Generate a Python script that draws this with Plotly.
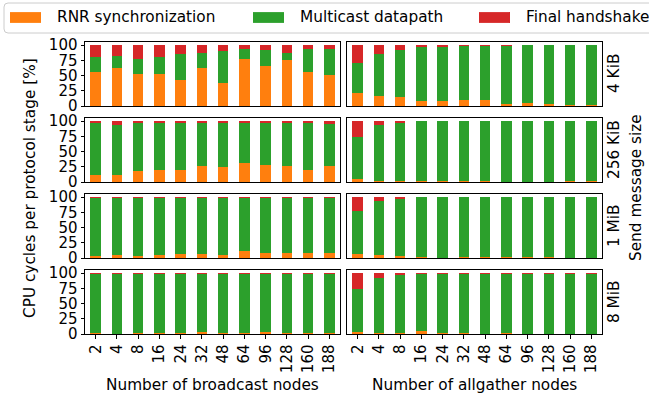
import plotly.graph_objects as go

# ---------------- data ----------------
nodes = ["2", "4", "8", "16", "24", "32", "48", "64", "96", "128", "160", "188"]
sizes = ["4 KiB", "256 KiB", "1 MiB", "8 MiB"]
stages = ["RNR synchronization", "Multicast datapath", "Final handshake"]

# broadcast (left column)
bc_4k_rnr = [55.5, 62, 52, 52, 42, 62, 37.5, 77, 65.5, 75, 55.5, 50.5]
bc_4k_mc = [24.5, 20, 25, 28, 43, 25, 52.5, 16.5, 26.5, 12, 38, 42.5]
bc_4k_fin = [20, 18, 23, 20, 15, 13, 10, 6.5, 8, 13, 6.5, 7]

bc_256k_rnr = [11.5, 11.5, 18, 19, 19, 25.5, 24.5, 32, 27.5, 25.5, 19, 26]
bc_256k_mc = [84.5, 82.5, 78, 77, 77, 70.5, 71.5, 64, 68.5, 70.5, 78, 69.5]
bc_256k_fin = [4, 6, 4, 4, 4, 4, 4, 4, 4, 4, 3, 4.5]

bc_1m_rnr = [2.7, 5, 2.7, 5, 6, 6, 5, 11.5, 8, 8, 8, 8]
bc_1m_mc = [96.5, 94.2, 96.5, 94.2, 93.2, 93.2, 94.2, 87.7, 91.2, 91.2, 91.2, 91.2]
bc_1m_fin = [0.8, 0.8, 0.8, 0.8, 0.8, 0.8, 0.8, 0.8, 0.8, 0.8, 0.8, 0.8]

bc_8m_rnr = [1.5, 0, 1.5, 1.5, 1.5, 3, 1.5, 1.5, 3, 1.5, 1.5, 1.5]
bc_8m_mc = [97.7, 99.2, 97.7, 97.7, 97.7, 96.2, 97.7, 97.7, 96.2, 97.7, 97.7, 97.7]
bc_8m_fin = [0.8, 0.8, 0.8, 0.8, 0.8, 0.8, 0.8, 0.8, 0.8, 0.8, 0.8, 0.8]

# allgather (right column)
ag_4k_rnr = [21, 16, 14, 7.5, 7.5, 9.5, 9.5, 2.5, 4.5, 2.5, 1, 1]
ag_4k_mc = [49.3, 69.2, 77.8, 89.5, 89.8, 88.9, 89, 95.9, 95, 97, 98.5, 98.5]
ag_4k_fin = [29.7, 14.8, 8.2, 3, 2.7, 1.6, 1.5, 1.6, 0.5, 0.5, 0.5, 0.5]

ag_256k_rnr = [5, 1.5, 1.5, 1.5, 1.5, 1.5, 1.5, 0, 0, 0, 1.5, 1.5]
ag_256k_mc = [69.5, 91.5, 95.8, 98, 98, 98, 98, 99.5, 99.5, 99.5, 98, 98]
ag_256k_fin = [25.5, 7, 2.7, 0.5, 0.5, 0.5, 0.5, 0.5, 0.5, 0.5, 0.5, 0.5]

ag_1m_rnr = [6, 4.3, 2.7, 1.5, 0, 1.5, 1.5, 1.5, 1.5, 1.5, 0, 0]
ag_1m_mc = [70.6, 88.7, 94.6, 98, 99.5, 98, 98, 98, 98, 98, 99.5, 99.5]
ag_1m_fin = [23.4, 7, 2.7, 0.5, 0.5, 0.5, 0.5, 0.5, 0.5, 0.5, 0.5, 0.5]

ag_8m_rnr = [2.7, 1, 1.5, 4.3, 1.5, 1, 0, 1, 0.5, 0, 0, 0.5]
ag_8m_mc = [71.3, 91.5, 95.2, 94.7, 97.7, 98.2, 99.2, 98.2, 98.7, 99.2, 99.2, 98.7]
ag_8m_fin = [26, 7.5, 3.3, 1, 0.8, 0.8, 0.8, 0.8, 0.8, 0.8, 0.8, 0.8]

y_ticks = [0, 25, 50, 75, 100]

panels = [
    [(bc_4k_rnr, bc_4k_mc, bc_4k_fin), (ag_4k_rnr, ag_4k_mc, ag_4k_fin)],
    [(bc_256k_rnr, bc_256k_mc, bc_256k_fin), (ag_256k_rnr, ag_256k_mc, ag_256k_fin)],
    [(bc_1m_rnr, bc_1m_mc, bc_1m_fin), (ag_1m_rnr, ag_1m_mc, ag_1m_fin)],
    [(bc_8m_rnr, bc_8m_mc, bc_8m_fin), (ag_8m_rnr, ag_8m_mc, ag_8m_fin)],
]

colors = ["#ff7f0e", "#2ca02c", "#d62728"]

# ---------------- layout geometry (pixels) ----------------
W, H = 649, 401
L, R, T, B = 85, 47, 42, 67
PW, PH = W - L - R, H - T - B


def px(x):
    return (x - L) / PW


def py(y):
    return (H - B - y) / PH


row_px = [(42, 106), (118, 182), (194, 258), (270, 334)]
col_px = [(85, 340), (347, 602)]

FONT = dict(family="DejaVu Sans", size=15.3, color="black")
TFONT = dict(family="DejaVu Sans", size=15, color="black")

fig = go.Figure()
layout = dict(
    width=W, height=H,
    margin=dict(l=L, r=R, t=T, b=B, pad=0),
    paper_bgcolor="white", plot_bgcolor="white",
    barmode="stack", bargap=0.5,
    showlegend=False,
    font=FONT,
)

k = 0
for r in range(4):
    for c in range(2):
        k += 1
        sfx = "" if k == 1 else str(k)
        data = panels[r][c]
        for s in range(3):
            fig.add_trace(go.Bar(
                x=nodes, y=data[s], name=stages[s],
                marker=dict(color=colors[s], line=dict(width=0)),
                xaxis="x" + sfx, yaxis="y" + sfx, showlegend=False,
            ))
        bottom = r == 3
        left = c == 0
        layout["xaxis" + sfx] = dict(
            domain=[px(col_px[c][0]), px(col_px[c][1])],
            anchor="y" + sfx, type="category",
            categoryorder="array", categoryarray=nodes,
            range=[-0.5, 11.5],
            showline=True, mirror=True, linecolor="black", linewidth=1,
            showgrid=False, zeroline=False,
            ticks="outside" if bottom else "", ticklen=3.5, tickwidth=1, tickcolor="black",
            showticklabels=bottom, tickangle=-90, tickfont=TFONT,
        )
        layout["yaxis" + sfx] = dict(
            domain=[py(row_px[r][1]), py(row_px[r][0])],
            anchor="x" + sfx, range=[0, 105],
            tickvals=y_ticks, ticktext=[str(v) for v in y_ticks],
            showline=True, mirror=True, linecolor="black", linewidth=1,
            showgrid=False, zeroline=False,
            ticks="outside" if left else "", ticklen=3.5, tickwidth=1, tickcolor="black",
            showticklabels=left, tickfont=TFONT,
        )

annotations = []
shapes = []

# axis titles
annotations.append(dict(text="CPU cycles per protocol stage [%]", x=px(30), y=py(188),
                        xref="paper", yref="paper", textangle=-90, showarrow=False,
                        xanchor="center", yanchor="middle", font=FONT))
annotations.append(dict(text="Number of broadcast nodes", x=px(212.5), y=py(385),
                        xref="paper", yref="paper", showarrow=False,
                        xanchor="center", yanchor="middle", font=FONT))
annotations.append(dict(text="Number of allgather nodes", x=px(474.5), y=py(385),
                        xref="paper", yref="paper", showarrow=False,
                        xanchor="center", yanchor="middle", font=FONT))
for r in range(4):
    yc = (row_px[r][0] + row_px[r][1]) / 2
    annotations.append(dict(text=sizes[r], x=px(614), y=py(yc), xref="paper", yref="paper",
                            textangle=-90, showarrow=False, xanchor="center",
                            yanchor="middle", font=FONT))
annotations.append(dict(text="Send message size", x=px(636), y=py(188), xref="paper",
                        yref="paper", textangle=-90, showarrow=False, xanchor="center",
                        yanchor="middle", font=FONT))

# legend (box, swatches, labels)
bx0, by0, bx1, by1, rad = 4, 3, 662, 33, 4
path = (f"M {px(bx0 + rad)},{py(by0)} L {px(bx1)},{py(by0)} L {px(bx1)},{py(by1)} "
        f"L {px(bx0 + rad)},{py(by1)} Q {px(bx0)},{py(by1)} {px(bx0)},{py(by1 - rad)} "
        f"L {px(bx0)},{py(by0 + rad)} Q {px(bx0)},{py(by0)} {px(bx0 + rad)},{py(by0)} Z")
shapes.append(dict(type="path", path=path, xref="paper", yref="paper",
                   line=dict(color="#cccccc", width=1), fillcolor="rgba(255,255,255,0.8)"))
leg_sw = [10, 253, 479]
leg_tx = [55, 298, 524]
ymid = 17.5
for s in range(3):
    shapes.append(dict(type="rect", xref="paper", yref="paper",
                       x0=px(leg_sw[s]), x1=px(leg_sw[s] + 31),
                       y0=py(ymid - 5.4), y1=py(ymid + 5.4),
                       line=dict(width=0), fillcolor=colors[s]))
    annotations.append(dict(text=stages[s], x=px(leg_tx[s]), y=py(ymid), xref="paper",
                            yref="paper", showarrow=False, xanchor="left",
                            yanchor="middle", font=FONT))

layout["annotations"] = annotations
layout["shapes"] = shapes
fig.update_layout(**layout)
fig.write_html(
    "out.html",
    config={"displayModeBar": False, "staticPlot": True},
    post_script="document.body.style.margin='0px';document.body.style.padding='0px';"
                "document.body.style.overflow='hidden';",
)
